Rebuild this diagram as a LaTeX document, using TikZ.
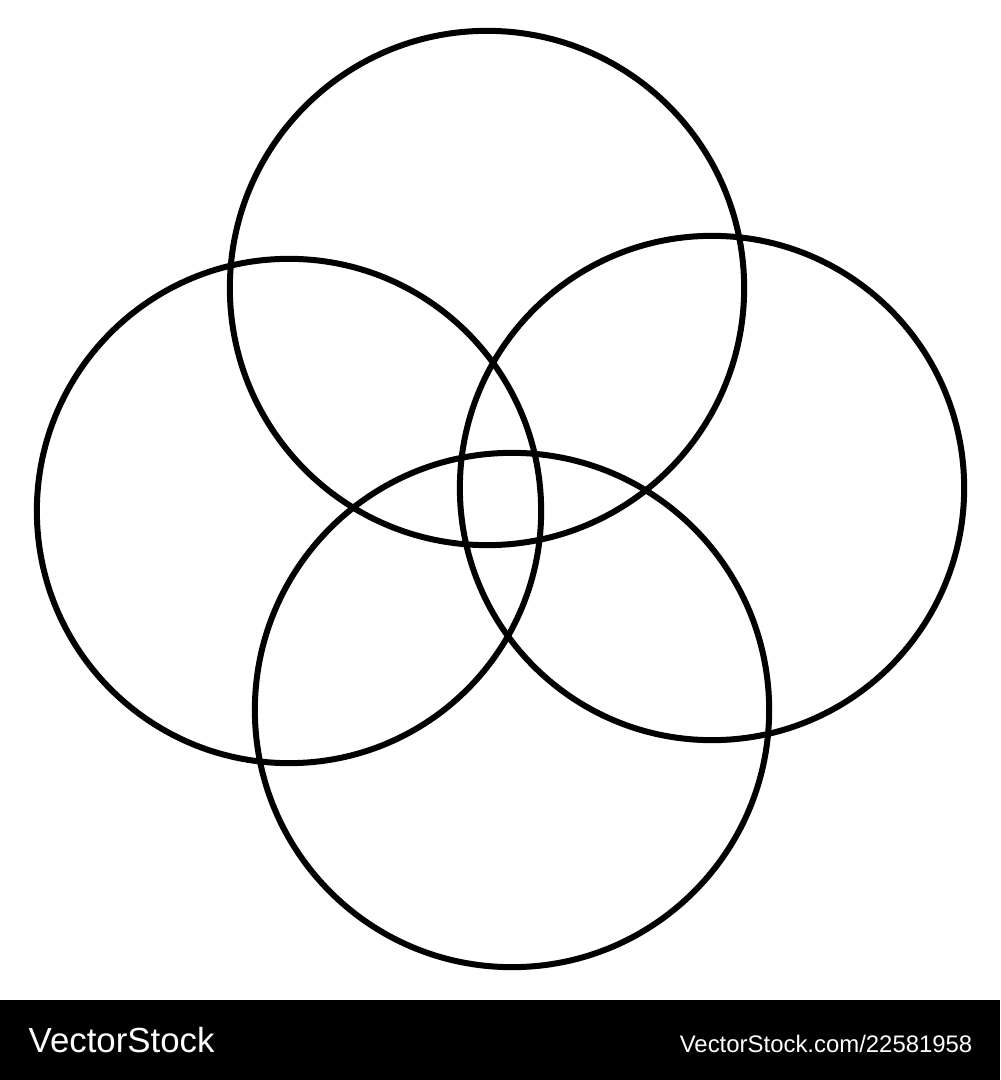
\documentclass[tikz,border=0pt]{standalone}
\usepackage{fontspec}
\setmainfont{Liberation Sans}
\usetikzlibrary{positioning}

\begin{document}
\begin{tikzpicture}
[
    x=0.01cm, y=-0.01cm,
    ring/.style={circle, draw=black, line width=0.06cm, inner sep=0pt, outer sep=0pt},
    brand/.style={text=white, inner sep=0pt, font=\fontsize{9.9pt}{12pt}\selectfont},
    stockid/.style={text=white, inner sep=0pt, font=\fontsize{6.8pt}{8pt}\selectfont},
]
\useasboundingbox (0,0) rectangle (1000,1080);
\fill[white] (0,0) rectangle (1000,1000);
% four rings
\node [ring, minimum size=5.14cm] (top)    at (487,288) {};
\node [ring, minimum size=5.04cm] (left)   at (289,511) {};
\node [ring, minimum size=5.04cm] (right)  at (712,488) {};
\node [ring, minimum size=5.14cm] (bottom) at (512,710) {};
% footer
\fill[black] (0,1000) rectangle (1000,1080);
\node [brand, anchor=base west] (logo) at (28,1052) {VectorStock};
\node [stockid, anchor=base east] (imgid) at (973,1052) {VectorStock.com/22581958};
\end{tikzpicture}
\end{document}
